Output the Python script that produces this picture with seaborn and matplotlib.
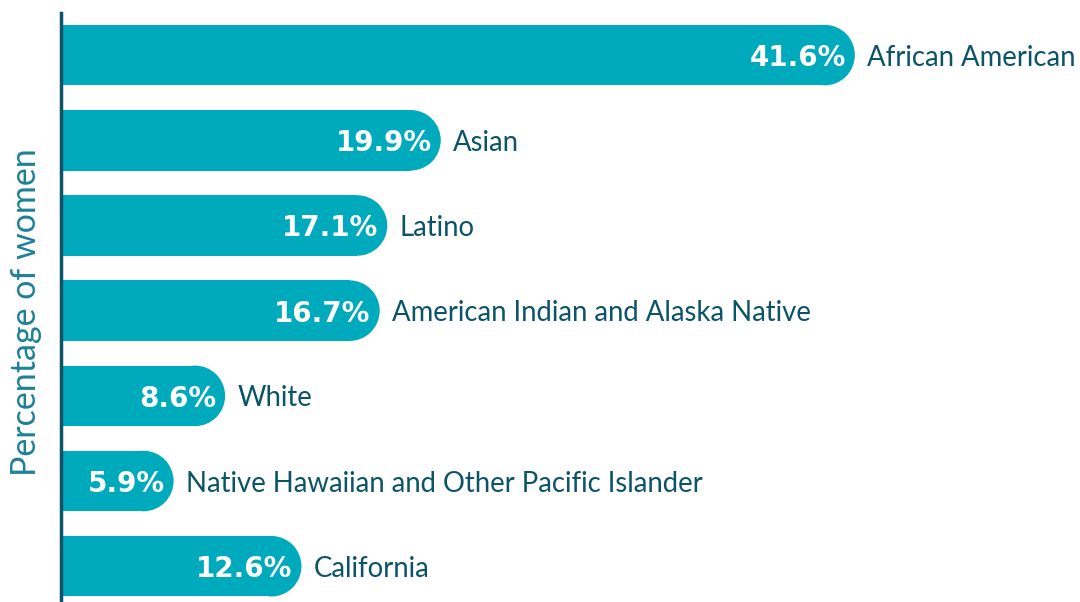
import pandas as pd
import numpy as np
import matplotlib.pyplot as plt
import seaborn as sns
from matplotlib.patches import Ellipse

# Data
groups = ['African American', 'Asian', 'Latino', 'American Indian and Alaska Native',
          'White', 'Native Hawaiian and Other Pacific Islander', 'California']
pct = [41.6, 19.9, 17.1, 16.7, 8.6, 5.9, 12.6]

df = pd.DataFrame({'group': groups, 'pct': pct})

bar_color = '#00AABD'
text_color = '#0B5468'

sns.set_style('white')
plt.rcParams['font.family'] = ['Lato', 'DejaVu Sans']

fig = plt.figure(figsize=(10.8, 6.02), dpi=100)
ax = fig.add_axes([61 / 1080, 0, (1080 - 61) / 1080, (602 - 13) / 602])

bar_h = 0.71
sns.barplot(data=df, x='pct', y='group', color=bar_color, width=bar_h,
            saturation=1, ax=ax, orient='h')

ax.set_xlim(0, 53.4)
ax.set_ylim(6.42, -0.494)

# rounded right ends: shorten the rectangle and cap it with an ellipse
px_per_x = ax.get_position().width * fig.get_figwidth() * fig.dpi / 53.4
r = 30 / px_per_x
for p in list(ax.patches):
    x0, y0 = p.get_x(), p.get_y()
    w, h = p.get_width(), p.get_height()
    p.set_width(w - r)
    p.set_edgecolor('none')
    ax.add_patch(Ellipse((w - r, y0 + h / 2), 2 * r, h, color=bar_color, lw=0))

pad_in = 9 / px_per_x
pad_out = 12 / px_per_x
for i, (g, v) in enumerate(zip(groups, pct)):
    ax.text(v - pad_in, i, f'{v}%', ha='right', va='center_baseline', color='white',
            fontsize=20, fontweight='bold', family=['DejaVu Sans'])
    ax.text(v + pad_out, i, g, ha='left', va='center_baseline', color=text_color,
            fontsize=19.8)

ax.set_xticks([])
ax.set_yticks([])
ax.set_xlabel('')
ax.set_ylabel('')
for s in ['top', 'right', 'bottom']:
    ax.spines[s].set_visible(False)
ax.spines['left'].set_color(text_color)
ax.spines['left'].set_linewidth(2.5)

fig.text(26 / 1080, 1 - 312 / 602, 'Percentage of women', rotation=90,
         ha='center', va='center', color='#1E8196', fontsize=24.5)

fig.savefig('out.png', dpi=100)
